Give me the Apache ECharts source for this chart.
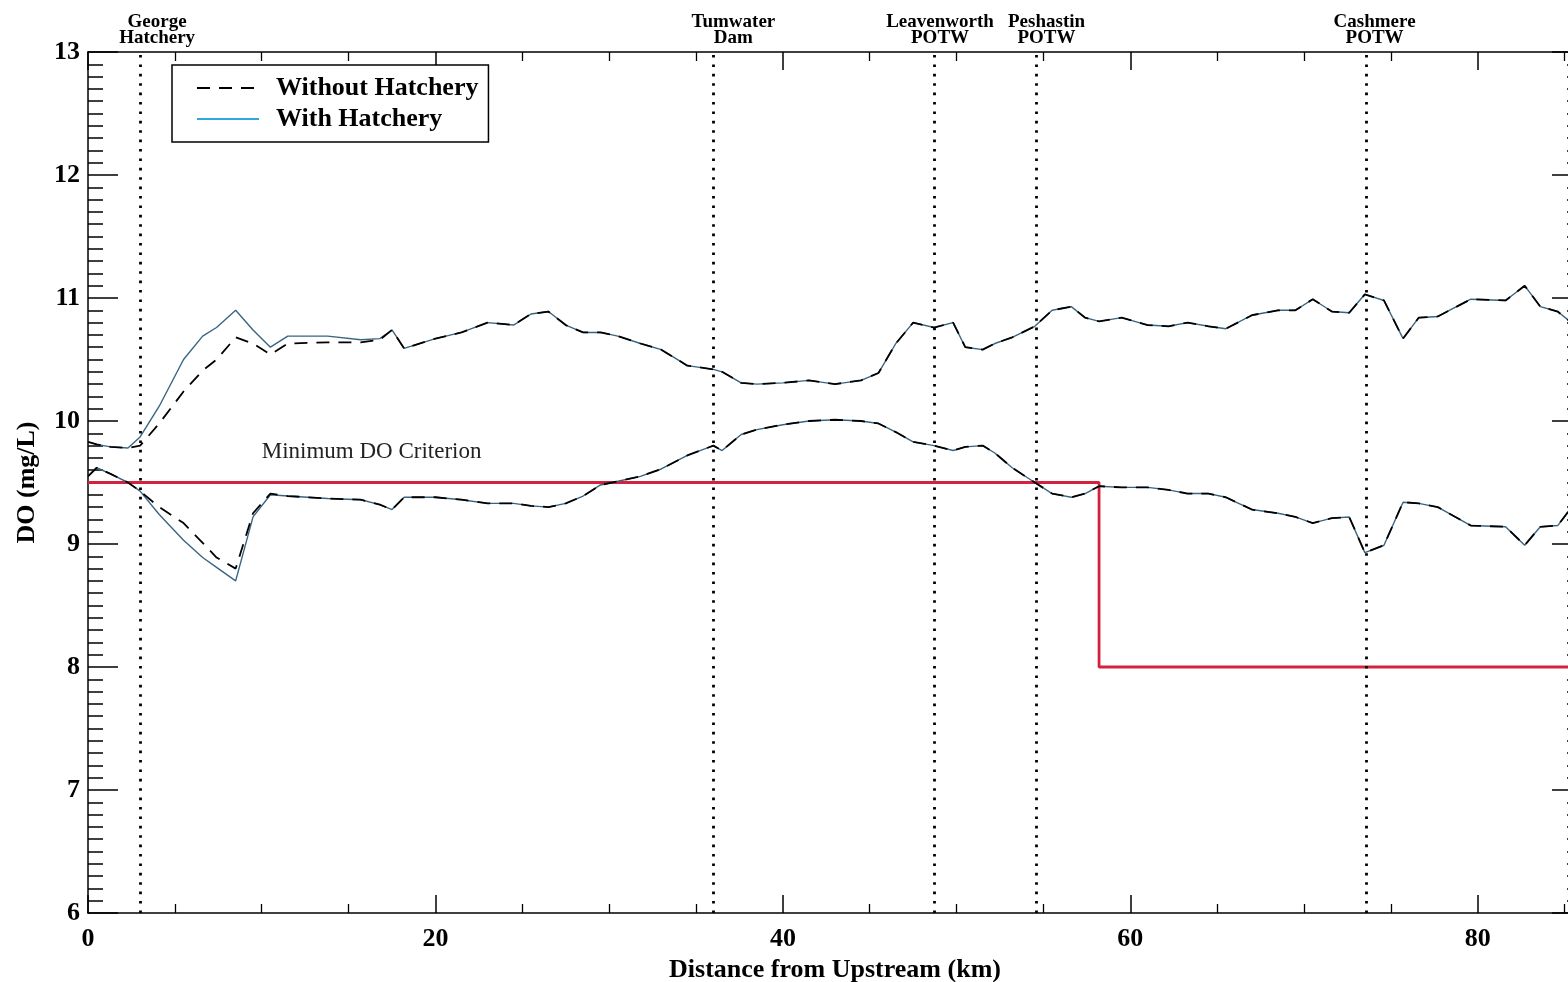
<!DOCTYPE html>
<html>
<head>
<meta charset="utf-8">
<title>DO profile</title>
<script src="https://cdn.jsdelivr.net/npm/echarts@6/dist/echarts.min.js"></script>
<style>
  html, body { margin: 0; padding: 0; background: #fff; overflow: hidden; }
  /* the plot frame runs slightly past the right edge of the window */
  #chart { width: 1582px; height: 982px; }
</style>
</head>
<body>
<div id="chart"></div>
<script>
// Distance along the river (km) at which the simulated DO envelope is sampled
const distanceKm = [0, 0.5, 1.3, 2.3, 3.0, 4.1, 5.5, 6.6, 7.4, 8.5, 9.5, 10.5, 11.5, 13.8, 15.7, 16.8,
  17.5, 18.2, 20.0, 21.5, 23.0, 24.5, 25.5, 26.5, 27.5, 28.5, 29.5, 30.5, 31.8, 33.0, 34.5, 36.0,
  36.5, 37.6, 38.5, 40.0, 41.5, 43.0, 44.5, 45.5, 46.5, 47.5, 48.7, 49.8, 50.5, 51.5, 52.2, 53.2,
  54.5, 55.5, 56.6, 57.4, 58.2, 59.5, 61.0, 62.2, 63.3, 64.5, 65.5, 67.0, 68.5, 69.5, 70.5, 71.6,
  72.6, 73.5, 74.6, 75.7, 76.6, 77.7, 79.6, 81.6, 82.7, 83.6, 84.6, 85.3];

// Daily maximum DO (mg/L)
const withHatcheryMax = [9.83, 9.81, 9.79, 9.78, 9.87, 10.12, 10.50, 10.69, 10.76, 10.90, 10.74, 10.60, 10.69, 10.69, 10.66, 10.67,
  10.74, 10.59, 10.67, 10.72, 10.80, 10.78, 10.87, 10.89, 10.78, 10.72, 10.72, 10.69, 10.63, 10.58, 10.45, 10.42,
  10.40, 10.31, 10.30, 10.31, 10.33, 10.30, 10.33, 10.39, 10.63, 10.80, 10.76, 10.80, 10.60, 10.58, 10.63, 10.68,
  10.77, 10.90, 10.93, 10.84, 10.81, 10.84, 10.78, 10.77, 10.80, 10.77, 10.75, 10.86, 10.90, 10.90, 10.99, 10.89,
  10.88, 11.03, 10.98, 10.67, 10.84, 10.85, 10.99, 10.98, 11.10, 10.93, 10.89, 10.81];
const withoutHatcheryMax = [9.83, 9.81, 9.79, 9.78, 9.80, 9.98, 10.24, 10.41, 10.50, 10.68, 10.63, 10.54, 10.63, 10.64, 10.64, 10.66,
  10.74, 10.59, 10.67, 10.72, 10.80, 10.78, 10.87, 10.89, 10.78, 10.72, 10.72, 10.69, 10.63, 10.58, 10.45, 10.42,
  10.40, 10.31, 10.30, 10.31, 10.33, 10.30, 10.33, 10.39, 10.63, 10.80, 10.76, 10.80, 10.60, 10.58, 10.63, 10.68,
  10.77, 10.90, 10.93, 10.84, 10.81, 10.84, 10.78, 10.77, 10.80, 10.77, 10.75, 10.86, 10.90, 10.90, 10.99, 10.89,
  10.88, 11.03, 10.98, 10.67, 10.84, 10.85, 10.99, 10.98, 11.10, 10.93, 10.89, 10.81];

// Daily minimum DO (mg/L)
const withHatcheryMin = [9.55, 9.62, 9.57, 9.50, 9.43, 9.24, 9.03, 8.89, 8.81, 8.70, 9.22, 9.40, 9.39, 9.37, 9.36, 9.32,
  9.28, 9.38, 9.38, 9.36, 9.33, 9.33, 9.31, 9.30, 9.33, 9.39, 9.48, 9.51, 9.55, 9.61, 9.72, 9.80,
  9.76, 9.89, 9.93, 9.97, 10.00, 10.01, 10.00, 9.98, 9.91, 9.83, 9.80, 9.76, 9.79, 9.80, 9.74, 9.62,
  9.50, 9.41, 9.38, 9.41, 9.47, 9.46, 9.46, 9.44, 9.41, 9.41, 9.38, 9.28, 9.25, 9.22, 9.17, 9.21,
  9.22, 8.93, 8.99, 9.34, 9.33, 9.30, 9.15, 9.14, 8.99, 9.14, 9.15, 9.28];
const withoutHatcheryMin = [9.55, 9.62, 9.57, 9.50, 9.43, 9.30, 9.17, 9.01, 8.89, 8.80, 9.25, 9.41, 9.39, 9.37, 9.36, 9.32,
  9.28, 9.38, 9.38, 9.36, 9.33, 9.33, 9.31, 9.30, 9.33, 9.39, 9.48, 9.51, 9.55, 9.61, 9.72, 9.80,
  9.76, 9.89, 9.93, 9.97, 10.00, 10.01, 10.00, 9.98, 9.91, 9.83, 9.80, 9.76, 9.79, 9.80, 9.74, 9.62,
  9.50, 9.41, 9.38, 9.41, 9.47, 9.46, 9.46, 9.44, 9.41, 9.41, 9.38, 9.28, 9.25, 9.22, 9.17, 9.21,
  9.22, 8.93, 8.99, 9.34, 9.33, 9.30, 9.15, 9.14, 8.99, 9.14, 9.15, 9.28];

// Minimum DO criterion (step from 9.5 to 8.0 mg/L)
const criterionKm = [0, 58.2, 58.2, 86];
const criterionDO = [9.5, 9.5, 8.0, 8.0];
const criterionLabel = 'Minimum DO Criterion';
const criterionLabelAt = [10.0, 9.75];

// Point sources / structures along the reach
const siteKm = [3.0, 36.0, 48.7, 54.6, 73.6];
const siteNames = ['George\nHatchery', 'Tumwater\nDam', 'Leavenworth\nPOTW', 'Peshastin\nPOTW', 'Cashmere\nPOTW'];
const siteLabelShift = [17, 20, 6, 10, 8];

const FONT = 'Liberation Serif';
const pairs = (ys) => distanceKm.map((d, i) => [d, ys[i]]);

const chart = echarts.init(document.getElementById('chart'));

const withStyle = { color: '#3a6580', width: 1.4, type: 'solid' };
const withoutStyle = { color: '#000', width: 1.8, type: [13, 9] };

function xAxisBase() {
  return {
    type: 'value', min: 0, max: 86, interval: 20,
    axisLine: { show: true, onZero: false, lineStyle: { color: '#000', width: 1.5 } },
    axisTick: { show: true, inside: true, length: 18, lineStyle: { color: '#000', width: 1.5 } },
    minorTick: { show: true, splitNumber: 4, length: 9, lineStyle: { color: '#000', width: 1.3 } },
    splitLine: { show: false }
  };
}
function yAxisBase() {
  return {
    type: 'value', min: 6, max: 13, interval: 1,
    axisLine: { show: true, onZero: false, lineStyle: { color: '#000', width: 1.5 } },
    axisTick: { show: true, inside: true, length: 30, lineStyle: { color: '#000', width: 1.5 } },
    minorTick: { show: true, splitNumber: 10, length: 15, lineStyle: { color: '#000', width: 1.5 } },
    splitLine: { show: false }
  };
}

chart.setOption({
  backgroundColor: '#fff',
  animation: false,
  grid: { left: 88, right: 0, top: 52, bottom: 69, containLabel: false, outerBoundsMode: 'none' },
  legend: {
    orient: 'vertical', left: 172, top: 65,
    backgroundColor: '#fff',
    borderColor: '#000', borderWidth: 1.5,
    padding: [10, 10, 10, 24],
    itemWidth: 62, itemHeight: 14, itemGap: 5,
    itemStyle: { opacity: 0 },
    textStyle: { fontFamily: FONT, fontWeight: 'bold', fontSize: 26, color: '#000', lineHeight: 24, padding: [0, 0, 0, 12] },
    data: [
      { name: 'Without Hatchery' },
      { name: 'With Hatchery', lineStyle: { color: '#2fa8dc', width: 2 } }
    ]
  },
  xAxis: [
    Object.assign(xAxisBase(), {
      position: 'bottom',
      axisLabel: { show: true, fontFamily: FONT, fontWeight: 'bold', fontSize: 26, color: '#000', margin: 13, showMaxLabel: false },
      name: 'Distance from Upstream (km)', nameLocation: 'middle', nameGap: 43,
      nameTextStyle: { fontFamily: FONT, fontWeight: 'bold', fontSize: 26, color: '#000' }
    }),
    Object.assign(xAxisBase(), { position: 'top', axisLabel: { show: false } })
  ],
  yAxis: [
    Object.assign(yAxisBase(), {
      position: 'left',
      axisLabel: { show: true, fontFamily: FONT, fontWeight: 'bold', fontSize: 26, color: '#000', margin: 8 },
      name: 'DO (mg/L)', nameLocation: 'middle', nameGap: 48, nameRotate: 90,
      nameTextStyle: { fontFamily: FONT, fontWeight: 'bold', fontSize: 26, color: '#000' }
    }),
    Object.assign(yAxisBase(), { position: 'right', axisLabel: { show: false } })
  ],
  series: [
    { name: 'With Hatchery', type: 'line', data: pairs(withHatcheryMax), symbol: 'none', lineStyle: withStyle, itemStyle: { color: withStyle.color }, z: 3 },
    { name: 'With Hatchery', type: 'line', data: pairs(withHatcheryMin), symbol: 'none', lineStyle: withStyle, itemStyle: { color: withStyle.color }, z: 3 },
    { name: 'Without Hatchery', type: 'line', data: pairs(withoutHatcheryMax), symbol: 'none', lineStyle: withoutStyle, itemStyle: { color: '#000' }, z: 4 },
    { name: 'Without Hatchery', type: 'line', data: pairs(withoutHatcheryMin), symbol: 'none', lineStyle: withoutStyle, itemStyle: { color: '#000' }, z: 4 },
    {
      name: 'criterion', type: 'line', data: criterionKm.map((d, i) => [d, criterionDO[i]]),
      symbol: 'none', lineStyle: { color: '#d4213d', width: 2.8 }, z: 2, silent: true,
      markPoint: {
        symbol: 'circle', symbolSize: 0, silent: true,
        label: {
          show: true, position: 'right', distance: 0,
          fontFamily: FONT, fontSize: 23, color: '#222',
          formatter: criterionLabel
        },
        data: [{ coord: criterionLabelAt }]
      }
    },
    {
      name: 'sites', type: 'line', data: [], silent: true,
      markLine: {
        symbol: ['none', 'none'], silent: true, animation: false,
        lineStyle: { color: '#000', width: 2.8, type: [2.6, 6.8] },
        label: {
          show: true, position: 'end', distance: 6,
          fontFamily: FONT, fontWeight: 'bold', fontSize: 19, lineHeight: 16, color: '#000',
          formatter: (p) => p.name
        },
        data: siteKm.map((km, i) => ({
          name: siteNames[i], xAxis: km,
          label: { padding: [0, 0, 0, siteLabelShift[i] * 2] }
        }))
      }
    }
  ]
});
</script>
</body>
</html>
